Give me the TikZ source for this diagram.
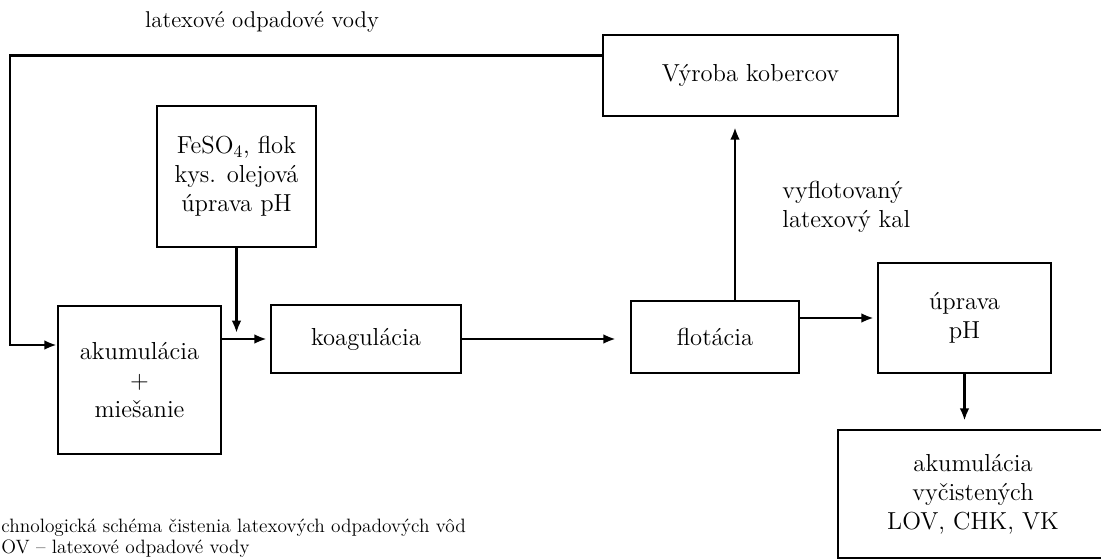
\documentclass[tikz,border=0pt]{standalone}
\usepackage{tikz}
\usetikzlibrary{positioning}
\usetikzlibrary{arrows.meta}

\begin{document}
\begin{tikzpicture}[x=0.02cm,y=-0.02cm,
  box/.style={rectangle,draw=black,line width=1.5pt,align=center,inner sep=0pt,font=\fontsize{14}{16.5}\selectfont,text=black},
  flow/.style={-{Latex[length=7pt,width=5.5pt]},line width=1.5pt,black},
  lbl/.style={inner sep=0pt,font=\fontsize{14}{16.5}\selectfont,text=black}]
\useasboundingbox (0,0) rectangle (1101,560);
\clip (0,0) rectangle (1101,560);

\node[box,minimum width=5.9cm,minimum height=1.62cm] (vyroba) at (750.5,75.5) {V\'yroba kobercov};
\node[box,minimum width=3.18cm,minimum height=2.82cm] (chem) at (236.5,176.5) {FeSO$_4$, flok\\kys. olejov\'a\\\'uprava pH};
\node[box,minimum width=3.26cm,minimum height=2.96cm] (akum) at (139.5,380) {akumul\'acia\\+\\mie\v{s}anie};
\node[box,minimum width=3.8cm,minimum height=1.36cm] (koag) at (366,339) {koagul\'acia};
\node[box,minimum width=3.36cm,minimum height=1.44cm] (flot) at (715,337) {flot\'acia};
\node[box,minimum width=3.46cm,minimum height=2.2cm] (uprava) at (964.5,318) {\'uprava\\pH};
\node[box,minimum width=5.4cm,minimum height=2.56cm] (zasobnik) at (973,494) {akumul\'acia\\vy\v{c}isten\'ych\\LOV, CHK, VK};

\node[lbl,font=\fontsize{13}{16.5}\selectfont] (odpad) at (262,22) {latexov\'e odpadov\'e vody};
\node[lbl,anchor=west,align=left] (kal) at (782,207) {vyflotovan\'y\\latexov\'y kal};
\node[lbl,anchor=north west,align=left,font=\fontsize{11}{12}\selectfont] (popis) at (1,519) {chnologick\'a sch\'ema \v{c}istenia latexov\'ych odpadov\'ych v\^od\\OV -- latexov\'e odpadov\'e vody};

\coordinate (ret) at (10,200);
\coordinate (mix) at (236.5,333);
\coordinate (kalout) at ([xshift=0.4cm]flot.north);

\draw[flow] ([yshift=0.4cm]vyroba.west) -| (ret) |- ([yshift=0.7cm]akum.west);
\draw[flow] (chem.south) -- (mix);
\draw[flow,shorten >=0.06cm] (akum.east |- koag.west) -- (koag.west);
\draw[flow,shorten >=0.28cm] (koag.east) -- (flot.west |- koag.east);
\draw[flow,shorten >=0.2cm] (kalout) -- (kalout |- vyroba.south);
\draw[flow,shorten >=0.06cm] (flot.east |- uprava.west) -- (uprava.west);
\draw[flow,shorten >=0.16cm] (uprava.south) -- (uprava.south |- zasobnik.north);

\end{tikzpicture}
\end{document}
